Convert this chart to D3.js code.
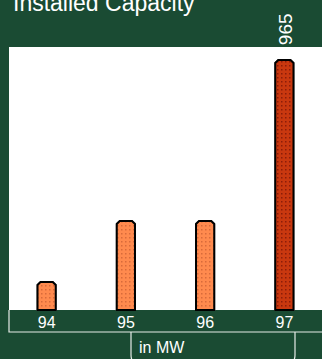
<!DOCTYPE html>
<html>
<head>
<meta charset="utf-8">
<script src="https://cdn.jsdelivr.net/npm/d3@7/dist/d3.min.js"></script>
<style>
  html, body { margin: 0; padding: 0; background: #1a4b33; }
  svg { display: block; }
  text { font-family: "Liberation Sans", Arial, sans-serif; fill: #fff; }
</style>
</head>
<body>
<svg id="chart" width="322" height="359"></svg>
<script>
// Installed wind capacity per year, in MW
const years = ["94", "95", "96", "97"];
const capacity = [220, 700, 700, 1965];
const labelled = ["97"];          // years that carry a value label
const highlight = ["97"];         // current year, drawn in the darker tone

const W = 322, H = 359;
const plot = { left: 9, top: 47, right: 322, bottom: 310 };
const band = { bottom: 332 };

const svg = d3.select("#chart");

const x = d3.scaleBand().domain(years).range([7, 324]).paddingInner(0.77).paddingOuter(0.385);
const y = d3.scaleLinear().domain([0, 1965]).range([plot.bottom, 60]);

// dotted fills for the bars
const defs = svg.append("defs");
function dots(id, base, dot) {
  const p = defs.append("pattern").attr("id", id)
    .attr("patternUnits", "userSpaceOnUse").attr("width", 4).attr("height", 4);
  p.append("rect").attr("width", 4).attr("height", 4).attr("fill", base);
  p.append("rect").attr("x", 1).attr("y", 1).attr("width", 1.5).attr("height", 1.5).attr("fill", dot);
}
dots("dotsLight", "#ff8a4e", "#d86a3a");
dots("dotsDark", "#c9380f", "#8c1c08");

// title, running off the top edge
svg.append("text").attr("x", 13).attr("y", 11)
  .style("font-size", "23px")
  .text("Installed Capacity");

// value labels run upward from the bar top; the plot panel sits over their lower end
svg.selectAll("text.value").data(years.filter(d => labelled.includes(d)))
  .join("text").attr("class", "value")
  .attr("transform", d => {
    const cx = x(d) + x.bandwidth() / 2 + 8;
    return `translate(${cx},${y(capacity[years.indexOf(d)]) + 1}) rotate(-90)`;
  })
  .style("font-size", "19px")
  .text(d => d3.format(",")(capacity[years.indexOf(d)]));

// white plot panel
svg.append("rect")
  .attr("x", plot.left).attr("y", plot.top)
  .attr("width", plot.right - plot.left).attr("height", plot.bottom - plot.top)
  .attr("fill", "#fff");

// bars with chamfered tops
function barPath(d, i) {
  const x0 = x(d), x1 = x(d) + x.bandwidth();
  const top = y(capacity[i]), base = y(0);
  const c = 3;
  return `M${x0},${base}V${top + c}L${x0 + c},${top}H${x1 - c}L${x1},${top + c}V${base}Z`;
}
svg.selectAll("path.bar").data(years).join("path").attr("class", "bar")
  .attr("d", barPath)
  .attr("fill", d => highlight.includes(d) ? "url(#dotsDark)" : "url(#dotsLight)")
  .attr("stroke", "#000").attr("stroke-width", 2)
  .style("filter", "drop-shadow(0 0 0.6px #888)");

// category band under the plot
svg.append("path")
  .attr("d", `M${plot.left},${plot.bottom}V${band.bottom}H${W + 2}`)
  .attr("fill", "none").attr("stroke", "#e6ece8").attr("stroke-width", 1.2);

const xAxis = d3.axisBottom(x).tickSize(0).tickPadding(0);
const gx = svg.append("g").attr("transform", `translate(0,${plot.bottom})`).call(xAxis);
gx.select(".domain").remove();
gx.selectAll("text")
  .attr("y", 18).attr("dy", 0)
  .style("font-size", "16px").style("font-family", "'Liberation Sans', Arial, sans-serif")
  .attr("fill", "#fff");

// unit tab
const tab = { left: 131, right: 295, top: band.bottom, bottom: 364, r: 9 };
svg.append("path")
  .attr("d", `M${tab.left},${tab.top}V${tab.bottom - tab.r}Q${tab.left},${tab.bottom} ${tab.left + tab.r},${tab.bottom}` +
             `H${tab.right - tab.r}Q${tab.right},${tab.bottom} ${tab.right},${tab.bottom - tab.r}V${tab.top}`)
  .attr("fill", "none").attr("stroke", "#e6ece8").attr("stroke-width", 1.2);
svg.append("text").attr("x", 139).attr("y", 353)
  .style("font-size", "16px")
  .text("in MW");
</script>
</body>
</html>
